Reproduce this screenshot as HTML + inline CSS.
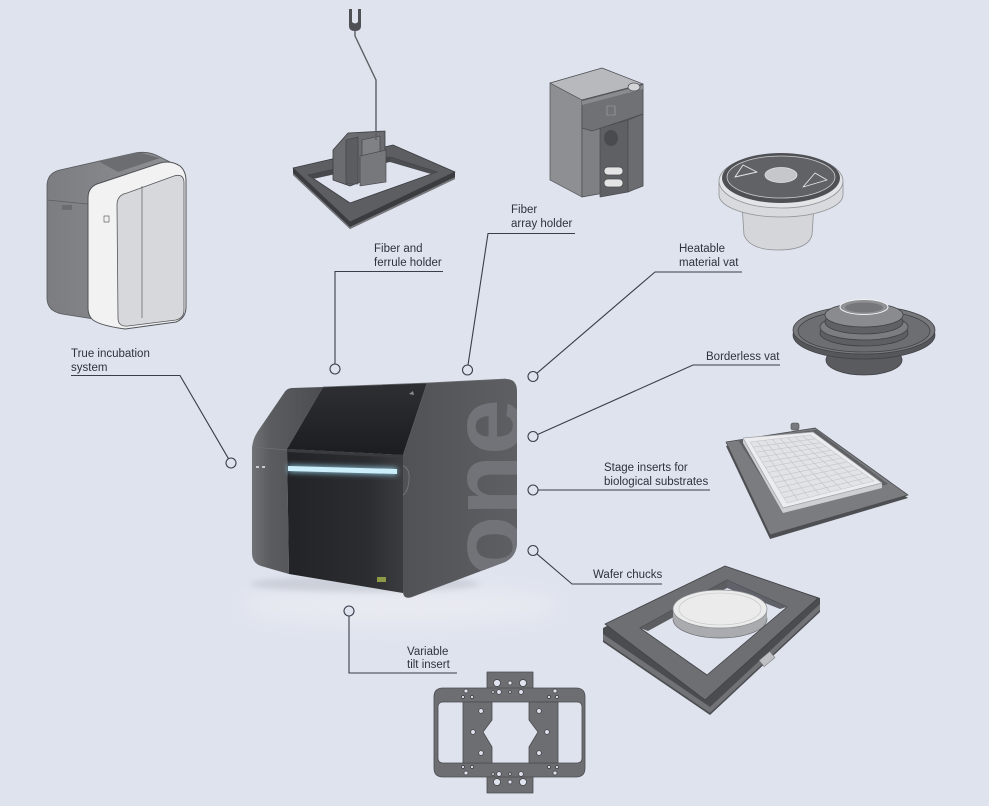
<!DOCTYPE html>
<html><head><meta charset="utf-8">
<style>
html,body{margin:0;padding:0;background:#dfe3ee;}
svg{display:block}
text.lb{font-family:"Liberation Sans",sans-serif;font-size:11.5px;fill:#2e323b}
</style></head><body>
<svg width="989" height="806" viewBox="0 0 989 806" xmlns="http://www.w3.org/2000/svg">
<defs>
 <filter id="blur10" x="-50%" y="-50%" width="200%" height="200%"><feGaussianBlur stdDeviation="10"/></filter>
 <filter id="blur3" x="-50%" y="-50%" width="200%" height="200%"><feGaussianBlur stdDeviation="3"/></filter>
 <linearGradient id="leftcol" x1="0" y1="0" x2="1" y2="0">
   <stop offset="0" stop-color="#707276"/><stop offset="0.25" stop-color="#5a5c60"/><stop offset="1" stop-color="#4b4d51"/>
 </linearGradient>
 <linearGradient id="frontTop" x1="0" y1="0" x2="0" y2="1"><stop offset="0" stop-color="#2e2f33"/><stop offset="1" stop-color="#1c1d20"/></linearGradient>
 <linearGradient id="front" x1="0" y1="0" x2="1" y2="0"><stop offset="0" stop-color="#222326"/><stop offset="0.7" stop-color="#2c2d30"/><stop offset="1" stop-color="#3b3c40"/></linearGradient>
 <linearGradient id="rightP" x1="0" y1="0" x2="1" y2="0"><stop offset="0" stop-color="#505256"/><stop offset="1" stop-color="#5d5f63"/></linearGradient>
 <linearGradient id="incG" x1="0" y1="0" x2="1" y2="0"><stop offset="0" stop-color="#7b7d81"/><stop offset="1" stop-color="#8f9195"/></linearGradient>
 <clipPath id="rpClip"><path d="M427,383 L506,379 Q517,379 517,391 L517,542 Q517,556 505,562 L412,597 Q403,600 403,591 L403,455 Z"/></clipPath>
</defs>
<rect width="989" height="806" fill="#dfe3ee"/>

<!-- ============ INCUBATOR ============ -->
<g stroke-linejoin="round">
 <path d="M47,186 Q47,173 60,170 L135,153 Q146,151 156,155 L178,166 L100,320 L62,314 Q47,311 47,298 Z" fill="url(#incG)" stroke="#55575b" stroke-width="0.8"/>
 <polygon points="98,161 138,152 160,158 118,172" fill="#6b6d71"/>
 <path d="M47,200 L88,204" stroke="#5d5f63" stroke-width="0.8" fill="none"/>
 <rect x="62" y="205" width="10" height="5" fill="#6a6c70"/>
 <path d="M88,198 Q88,186 100,183 L160,163 Q171,160 180,166 Q186,171 186,181 L186,307 Q186,318 176,322 L125,329 Q96,325 91,318 Q88,314 88,308 Z" fill="#f2f2f3" stroke="#4f5155" stroke-width="1"/>
 <path d="M117,205 Q117,195 127,193 L174,176 Q184,173 184,183 L184,310 Q184,318 176,320 L128,326 Q118,327 118,318 Z" fill="#d7d8db" stroke="#55575b" stroke-width="0.8"/>
 <path d="M142,186 L142,318" stroke="#6a6c70" stroke-width="0.8"/>
 <rect x="104" y="216" width="5" height="6" fill="none" stroke="#666" stroke-width="0.7"/>
</g>

<!-- ============ FIBER AND FERRULE HOLDER ============ -->
<g stroke-linejoin="round">
 <polygon points="293,168 350,222 455,172 455,179 350,229 293,175" fill="#3a3c40"/>
 <polygon points="293,173 350,227 455,177 455,179 350,229 293,175" fill="#76787c"/>
 <path d="M293,168 L393,145 L455,172 L350,222 Z M308,175 L350,203 L437,172 L390,157 Z" fill="#5c5e62" fill-rule="evenodd" stroke="#3a3c40" stroke-width="0.8"/>
 <polygon points="308,175 390,157 390,162 313,179" fill="#47494d"/>
 <polygon points="390,157 437,172 431,174 390,162" fill="#4c4e52"/>
 <polygon points="333,150 348,133 385,131 385,172 350,186 333,180" fill="#6a6c70" stroke="#3d3f43" stroke-width="0.8"/>
 <polygon points="346,140 358,137 358,184 346,184" fill="#5b5d61" stroke="#3d3f43" stroke-width="0.6"/>
 <polygon points="362,140 380,136 380,152 362,156" fill="#7f8185" stroke="#3d3f43" stroke-width="0.6"/>
 <polygon points="360,156 386,150 386,182 360,186" fill="#76787c" stroke="#3d3f43" stroke-width="0.6"/>
 <polyline points="355,30 355,36 376,80 376,140" fill="none" stroke="#5b5d61" stroke-width="1.4"/>
 <path d="M349,9 L349,26 Q349,31 355,31 Q361,31 361,26 L361,9 L358,9 L358,22 Q355,25 352,22 L352,9 Z" fill="#4e5054"/>
</g>

<!-- ============ FIBER ARRAY HOLDER ============ -->
<g stroke-linejoin="round" stroke="#4a4c50" stroke-width="0.7">
 <polygon points="550,83 582,100 582,197 550,180" fill="#8d8f93"/>
 <polygon points="550,83 602,68 643,84 582,100" fill="#b7b9bc"/>
 <polygon points="582,100 643,84 643,186 582,197" fill="#7e8084"/>
 <polygon points="600,128 628,120 628,192 600,197" fill="#5e6064"/>
 <ellipse cx="611" cy="138" rx="7" ry="8" fill="#494b4f" stroke="none"/>
 <polygon points="628,120 643,114 643,186 628,192" fill="#6a6c70"/>
 <polygon points="582,101 643,85 643,114 592,131 582,128" fill="#6f7175"/>
 <polygon points="582,101 643,85 643,89 582,105" fill="#898b8f" stroke="none"/>
 <rect x="607" y="106" width="8" height="9" fill="none" stroke="#a5a7aa" stroke-width="0.6"/>
 <ellipse cx="634" cy="87" rx="6" ry="4" fill="#d4d5d7"/>
 <rect x="604" y="167" width="19" height="8" rx="4" fill="#e4e4e5"/>
 <rect x="604" y="179" width="19" height="8" rx="4" fill="#e4e4e5"/>
</g>

<!-- ============ HEATABLE VAT ============ -->
<g stroke-linejoin="round">
 <path d="M742,205 L744,235 Q750,250 778,250 Q808,250 812,235 L814,205 Z" fill="#d5d6d9" stroke="#8e9093" stroke-width="0.8"/>
 <path d="M719,182 L719,195 A62,22 0 0 0 843,195 L843,182 Z" fill="#d9dadd" stroke="#909296" stroke-width="0.8"/>
 <ellipse cx="781" cy="181" rx="62" ry="27" fill="#e3e4e6" stroke="#909296" stroke-width="0.8"/>
 <ellipse cx="781" cy="178" rx="59" ry="25" fill="#4e5054"/>
 <ellipse cx="781" cy="177" rx="54" ry="21" fill="#606266" stroke="#cfd0d2" stroke-width="0.8"/>
 <ellipse cx="781" cy="175" rx="16" ry="7.5" fill="#c6c7ca" stroke="#e2e2e2" stroke-width="0.8"/>
 <polygon points="735,177 757,172 743,165" fill="none" stroke="#e6e6e6" stroke-width="0.9"/>
 <polygon points="803,187 827,180 815,173" fill="none" stroke="#e6e6e6" stroke-width="0.9"/>
</g>

<!-- ============ BORDERLESS VAT ============ -->
<g stroke="#3f4145" stroke-width="0.8">
 <ellipse cx="864" cy="360" rx="38" ry="15" fill="#595b5f"/>
 <ellipse cx="864" cy="335" rx="71" ry="24" fill="#55575b"/>
 <ellipse cx="864" cy="330" rx="71" ry="24" fill="#77797d"/>
 <ellipse cx="864" cy="331" rx="66" ry="21" fill="#6c6e72"/>
 <ellipse cx="864" cy="333" rx="44" ry="13" fill="#5d5f63"/>
 <ellipse cx="864" cy="327" rx="44" ry="13" fill="#7b7d81"/>
 <ellipse cx="864" cy="322" rx="39" ry="12" fill="#5f6165"/>
 <ellipse cx="864" cy="315" rx="39" ry="12" fill="#898b8f"/>
 <ellipse cx="864" cy="307" rx="24" ry="7.5" fill="#8f9195" stroke="#f0f0f0" stroke-width="1"/>
 <ellipse cx="864" cy="307.5" rx="19" ry="5" fill="#75777b" stroke="none"/>
</g>

<!-- ============ STAGE INSERT ============ -->
<g stroke-linejoin="round">
 <polygon points="726,446 815,431 908,498 770,539" fill="#4d4f53"/>
 <polygon points="726,442 815,428 908,495 770,535" fill="#7a7c80" stroke="#4a4c50" stroke-width="0.8"/>
 <polygon points="738,440 816,430 888,484 784,512" fill="#5e6064"/>
 <rect x="791" y="423" width="8" height="7" rx="2" fill="#77797d" stroke="#4a4c50" stroke-width="0.6"/>
 <polygon points="743,438 783,508 882,483 882,488 783,513 743,443" fill="#cdcfd2"/>
 <polygon points="743,438 813,432 882,483 783,508" fill="#ececee" stroke="#a0a2a5" stroke-width="0.7"/>
 <polygon points="750,442 810,435 874,481 787,503" fill="#e2e3e6" stroke="#c5c6c9" stroke-width="0.6"/>
 <g stroke="#c3c4c7" stroke-width="0.6">
  <line x1="757.5" y1="441.1" x2="797.9" y2="500.3"/>
  <line x1="765" y1="440.3" x2="808.8" y2="497.5"/>
  <line x1="772.5" y1="439.4" x2="819.6" y2="494.8"/>
  <line x1="780" y1="438.5" x2="830.5" y2="492"/>
  <line x1="787.5" y1="437.6" x2="841.4" y2="489.3"/>
  <line x1="795" y1="436.8" x2="852.3" y2="486.5"/>
  <line x1="802.5" y1="435.9" x2="863.1" y2="483.8"/>
  <line x1="753.1" y1="447.1" x2="815.3" y2="438.8"/>
  <line x1="756.2" y1="452.2" x2="820.7" y2="442.7"/>
  <line x1="759.3" y1="457.3" x2="826" y2="446.5"/>
  <line x1="762.3" y1="462.3" x2="831.3" y2="450.3"/>
  <line x1="765.4" y1="467.4" x2="836.7" y2="454.2"/>
  <line x1="768.5" y1="472.5" x2="842" y2="458"/>
  <line x1="771.6" y1="477.6" x2="847.3" y2="461.8"/>
  <line x1="774.7" y1="482.7" x2="852.7" y2="465.7"/>
  <line x1="777.8" y1="487.8" x2="858" y2="469.5"/>
  <line x1="780.8" y1="492.8" x2="863.3" y2="473.3"/>
  <line x1="783.9" y1="497.9" x2="868.7" y2="477.2"/>
 </g>
</g>

<!-- ============ WAFER CHUCK ============ -->
<g stroke-linejoin="round">
 <polygon points="603,628 725,566 820,598 820,612 710,715 603,642" fill="#4a4c50"/>
 <polygon points="603,634 710,707 820,604 820,610 710,713 603,640" fill="#707276"/>
 <path d="M605,624 L725,566 L818,598 L705,700 Z" fill="#6d6f73" stroke="#404246" stroke-width="0.8"/>
 <polygon points="640,628 727,580 787,607 707,675" fill="#dfe3ee" stroke="#404246" stroke-width="0.8"/>
 <polygon points="640,628 727,580 727,588 648,631" fill="#5b5d61"/>
 <polygon points="727,580 787,607 780,609 727,588" fill="#60626a"/>
 <ellipse cx="720" cy="619" rx="47" ry="19" fill="#a9abae" stroke="#6b6d71" stroke-width="0.7"/>
 <rect x="673" y="609" width="94" height="10" fill="#a9abae"/>
 <ellipse cx="720" cy="609" rx="47" ry="19" fill="#ebebec" stroke="#8a8c90" stroke-width="0.7"/>
 <ellipse cx="720" cy="609" rx="41" ry="16" fill="none" stroke="#c4c5c8" stroke-width="0.6"/>
 <rect x="760" y="655" width="14" height="8" fill="#bfc0c3" stroke="#6a6c70" stroke-width="0.5" transform="rotate(-40 767 659)"/>
</g>

<!-- ============ VARIABLE TILT INSERT ============ -->
<g stroke="#4a4c50" stroke-width="0.8" stroke-linejoin="round">
 <rect x="487" y="672" width="46" height="25" fill="#6c6e72"/>
 <rect x="487" y="768" width="46" height="25" fill="#6c6e72"/>
 <path d="M443,688 L576,688 Q585,688 585,697 L585,768 Q585,777 576,777 L443,777 Q434,777 434,768 L434,697 Q434,688 443,688 Z M443,702 Q438,702 438,707 L438,758 Q438,763 443,763 L577,763 Q582,763 582,758 L582,707 Q582,702 577,702 Z" fill="#6c6e72" fill-rule="evenodd"/>
 <path d="M463,702 L492,702 L492,720 L483,732 L492,747 L492,763 L463,763 Z" fill="#6c6e72"/>
 <path d="M529,702 L558,702 L558,763 L529,763 L529,747 L538,732 L529,720 Z" fill="#6c6e72"/>
 <g fill="#dfe3ee" stroke="#3d3f43" stroke-width="0.7">
  <circle cx="497" cy="683" r="3.5"/><circle cx="510" cy="683" r="2"/><circle cx="523" cy="683" r="3.5"/>
  <circle cx="493" cy="692" r="1.3"/><circle cx="499" cy="692" r="2.3"/><circle cx="510" cy="692" r="1.3"/><circle cx="521" cy="692" r="2.3"/>
  <circle cx="497" cy="782" r="3.5"/><circle cx="510" cy="782" r="2"/><circle cx="523" cy="782" r="3.5"/>
  <circle cx="493" cy="774" r="1.3"/><circle cx="499" cy="774" r="2.3"/><circle cx="510" cy="774" r="1.3"/><circle cx="521" cy="774" r="2.3"/>
  <circle cx="481" cy="711" r="2.3"/><circle cx="473" cy="732" r="2.3"/><circle cx="481" cy="753" r="2.3"/>
  <circle cx="539" cy="711" r="2.3"/><circle cx="547" cy="732" r="2.3"/><circle cx="539" cy="753" r="2.3"/>
  <circle cx="466" cy="691" r="2"/><circle cx="463" cy="697" r="1.5"/><circle cx="472" cy="697" r="1.5"/>
  <circle cx="555" cy="691" r="2"/><circle cx="549" cy="697" r="1.5"/><circle cx="557" cy="697" r="1.5"/>
  <circle cx="466" cy="773" r="2"/><circle cx="463" cy="767" r="1.5"/><circle cx="472" cy="767" r="1.5"/>
  <circle cx="555" cy="773" r="2"/><circle cx="549" cy="767" r="1.5"/><circle cx="557" cy="767" r="1.5"/>
 </g>
</g>

<!-- ============ PRINTER ============ -->
<ellipse cx="400" cy="606" rx="160" ry="20" fill="#e8eaf1" filter="url(#blur10)"/>
<ellipse cx="365" cy="584" rx="115" ry="8" fill="#a4a9b3" opacity="0.35" filter="url(#blur3)"/>
<g stroke-linejoin="round">
 <path d="M292,388 L323,387 L287,449 L289,574 L261,566 Q252,563 252,553 L252,450 Q252,440 258,431 L284,393 Q287,388 292,388 Z" fill="url(#leftcol)"/>
 <path d="M252,447 L287,450" stroke="#6d6f73" stroke-width="0.8"/>
 <rect x="256" y="466" width="3" height="2" fill="#c9cacc"/>
 <rect x="262" y="466" width="3" height="2" fill="#c9cacc"/>
 <polygon points="323,387 427,383 403,455 287,449" fill="url(#frontTop)"/>
 <polygon points="287,449 403,455 403,593 289,574" fill="url(#front)"/>
 <polygon points="287,449 403,455 403,458 287,452" fill="#3a3b3f"/>
 <polygon points="288,465 397,468 397,475 288,472" fill="#9fdcf5" filter="url(#blur3)" opacity="0.8"/>
 <polygon points="288,466 397,469 397,474 288,471" fill="#cdeefb"/>
 <path d="M427,383 L506,379 Q517,379 517,391 L517,542 Q517,556 505,562 L412,597 Q403,600 403,591 L403,455 Z" fill="url(#rightP)"/>
 <g clip-path="url(#rpClip)">
  <text x="521" y="577" transform="rotate(-90 521 577)" font-weight="bold" font-size="100" fill="#717378" style="font-family:'Liberation Sans',sans-serif">one</text>
 </g>
 <path d="M403,466 Q410,468 409,480 Q408,492 403,495" stroke="#7a7c80" stroke-width="0.8" fill="none"/>
 <path d="M323,387 L427,383 L506,379" stroke="#6a6c70" stroke-width="0.8" fill="none"/>
 <path d="M409,394 L413,391 L414,395 Z" fill="#8a8c90"/>
 <rect x="377" y="577" width="9" height="5" fill="#8e9a45"/>
</g>

<!-- ============ CONNECTORS ============ -->
<g stroke="#3a3e48" stroke-width="1.1" fill="none">
 <polyline points="71,375.5 180,375.5 228.5,458.7"/>
 <polyline points="443,271.5 335,271.5 335,364"/>
 <polyline points="575,233.5 488,233.5 468,365"/>
 <polyline points="742,272 655,272 536.8,373.3"/>
 <polyline points="780,365 693,365 537.6,434.5"/>
 <polyline points="538,490 710,490"/>
 <polyline points="662,584 572,584 536.8,553.8"/>
 <polyline points="349,616 349,673 457,673"/>
</g>
<g stroke="#3a3e48" stroke-width="1.1" fill="#dfe3ee">
 <circle cx="231" cy="463" r="5"/>
 <circle cx="335" cy="369" r="5"/>
 <circle cx="467.5" cy="370" r="5"/>
 <circle cx="533" cy="376.5" r="5"/>
 <circle cx="533" cy="436.5" r="5"/>
 <circle cx="533" cy="490" r="5"/>
 <circle cx="533" cy="550.5" r="5"/>
 <circle cx="349" cy="611" r="5"/>
</g>

<!-- ============ LABELS ============ -->
<text class="lb" x="71" y="357">True incubation</text>
<text class="lb" x="71" y="371">system</text>
<text class="lb" x="374" y="252">Fiber and</text>
<text class="lb" x="374" y="266">ferrule holder</text>
<text class="lb" x="511" y="213">Fiber</text>
<text class="lb" x="511" y="227">array holder</text>
<text class="lb" x="679" y="252">Heatable</text>
<text class="lb" x="679" y="266">material vat</text>
<text class="lb" x="706" y="360">Borderless vat</text>
<text class="lb" x="604" y="471">Stage inserts for</text>
<text class="lb" x="604" y="485">biological substrates</text>
<text class="lb" x="593" y="578">Wafer chucks</text>
<text class="lb" x="407" y="655">Variable</text>
<text class="lb" x="407" y="668">tilt insert</text>
</svg>
</body></html>
